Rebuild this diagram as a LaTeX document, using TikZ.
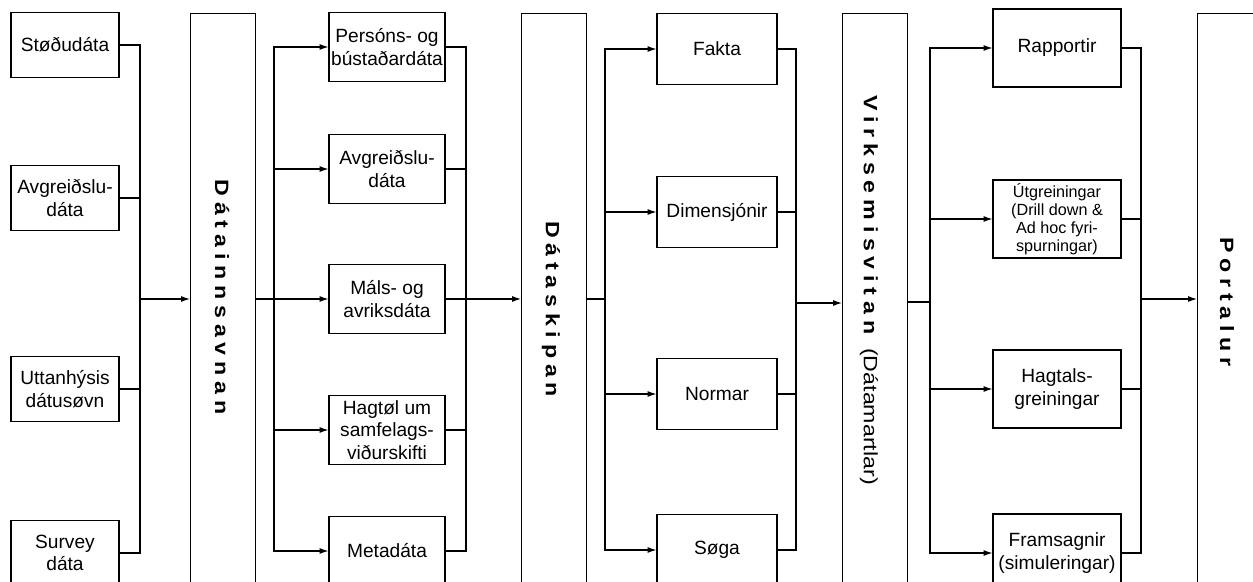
\documentclass[tikz,border=0pt]{standalone}
\usepackage{fontspec}
\setmainfont{Liberation Sans}
\usetikzlibrary{arrows.meta}

\newcommand{\stagefont}{\fontsize{11}{13}\selectfont\bfseries\spaceskip=0.25em\relax}

\begin{document}
\begin{tikzpicture}[x=0.02cm,y=-0.02cm,line width=0.6pt,
  box/.style={draw,line width=0.7pt,minimum width=#1,inner sep=1pt,align=center,font=\fontsize{10.9}{12.9}\selectfont},
  col1/.style={box=2.16cm,minimum height=1.3cm},
  col2/.style={box=2.32cm,minimum height=1.38cm},
  col3/.style={box=2.4cm,minimum height=1.42cm},
  col4/.style={box=2.56cm,minimum height=1.56cm},
  stage/.style={draw,line width=0.7pt,minimum width=1.3cm,minimum height=12cm,anchor=north},
  stagetext/.style={rotate=-90,xscale=1.2,inner sep=0pt,font=\stagefont},
  arr/.style={-{Latex[length=5pt,width=3.4pt]}}]

\useasboundingbox (0,0) rectangle (1253,581);
\clip (0,0) rectangle (1253,581);

\node [col1] (stodu) at (65,45) {Støðudáta};
\node [col1] (avgr-src) at (65,198) {Avgreiðslu-\\dáta};
\node [col1] (uttan) at (65,389) {Uttanhýsis\\dátusøvn};
\node [col1] (survey) at (65,553) {Survey\\dáta};

\node [stage] (collect) at (223,13) {};
\node [stagetext] (collect-text) at (222,297) {D á t a i n n s a v n a n};

\coordinate (collect-in) at (140,299);
\draw (stodu.east) -| (collect-in);
\draw (avgr-src.east) -| (collect-in);
\draw (uttan.east) -| (collect-in);
\draw (survey.east) -| (collect-in);
\draw [arr] (collect-in) -- (collect-in -| collect.west);

\node [col2] (persons) at (387,47) {Persóns- og\\bústaðardáta};
\node [col2] (avgr) at (387,169) {Avgreiðslu-\\dáta};
\node [col2] (mals) at (387,299) {Máls- og\\avriksdáta};
\node [col2] (hagtol) at (387,430) {Hagtøl um\\samfelags-\\viðurskifti};
\node [col2] (meta) at (387,551) {Metadáta};

\coordinate (collect-out) at (274,299);
\draw (collect-out -| collect.east) -- (collect-out);
\draw [arr] (collect-out) |- (persons.west);
\draw [arr] (collect-out) |- (avgr.west);
\draw [arr] (collect-out) |- (mals.west);
\draw [arr] (collect-out) |- (hagtol.west);
\draw [arr] (collect-out) |- (meta.west);

\node [stage] (store) at (554,13) {};
\node [stagetext] (store-text) at (551,309) {D á t a s k i p a n};

\coordinate (store-in) at (466,299);
\draw (persons.east) -| (store-in);
\draw (avgr.east) -| (store-in);
\draw (mals.east) -| (store-in);
\draw (hagtol.east) -| (store-in);
\draw (meta.east) -| (store-in);
\draw [arr] (store-in) -- (store-in -| store.west);

\node [col3] (fakta) at (717,49) {Fakta};
\node [col3] (dim) at (717,212) {Dimensjónir};
\node [col3] (normar) at (717,394) {Normar};
\node [col3] (soga) at (717,550) {Søga};

\coordinate (store-out) at (605,299);
\draw (store-out -| store.east) -- (store-out);
\draw [arr] (store-out) |- (fakta.west);
\draw [arr] (store-out) |- (dim.west);
\draw [arr] (store-out) |- (normar.west);
\draw [arr] (store-out) |- (soga.west);

\node [stage] (bi) at (875,13) {};
\node [stagetext] (bi-text) at (869,290) {V i r k s e m i s v i t a n\hspace{0.6em}{\mdseries (Dátamartlar)}};

\coordinate (bi-in) at (796,303);
\draw (fakta.east) -| (bi-in);
\draw (dim.east) -| (bi-in);
\draw (normar.east) -| (bi-in);
\draw (soga.east) -| (bi-in);
\draw [arr] (bi-in) -- (bi-in -| bi.west);

\node [col4] (rapport) at (1057,48) {Rapportir};
\node [col4,font=\fontsize{9.2}{10.3}\selectfont] (utgrein) at (1057,219) {Útgreiningar\\(Drill down \&\\Ad hoc fyri-\\spurningar)};
\node [col4] (hagtals) at (1057,389) {Hagtals-\\greiningar};
\node [col4] (framsagnir) at (1057,553) {Framsagnir\\(simuleringar)};

\coordinate (bi-out) at (930,302);
\draw (bi-out -| bi.east) -- (bi-out);
\draw [arr] (bi-out) |- (rapport.west);
\draw [arr] (bi-out) |- (utgrein.west);
\draw [arr] (bi-out) |- (hagtals.west);
\draw [arr] (bi-out) |- (framsagnir.west);

\node [stage] (portal) at (1230,13) {};
\node [stagetext] (portal-text) at (1227,302) {P o r t a l u r};

\coordinate (portal-in) at (1141,299);
\draw (rapport.east) -| (portal-in);
\draw (utgrein.east) -| (portal-in);
\draw (hagtals.east) -| (portal-in);
\draw (framsagnir.east) -| (portal-in);
\draw [arr] (portal-in) -- (portal-in -| portal.west);

\end{tikzpicture}
\end{document}
